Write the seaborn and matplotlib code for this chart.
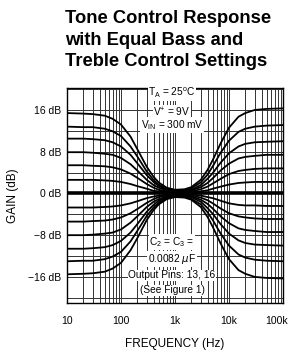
import numpy as np
import pandas as pd
import matplotlib
matplotlib.use("Agg")
import matplotlib.pyplot as plt
import matplotlib.ticker as mticker
import matplotlib.transforms as mtransforms
import seaborn as sns

# frequency axis (Hz) and gain of each control setting (dB)
freq_hz = [10, 20, 30, 50, 70, 100, 150, 200, 300, 400, 500, 700, 1000, 1500, 2000,
           3000, 4000, 5000, 7000, 10000, 15000, 20000, 30000, 50000, 100000]

boost_6 = [15.4, 15.3, 15.2, 14.9, 14.3, 13.2, 10.9, 8.5, 5.1, 3.2, 2.1, 1.1, 0.7, 0.8, 1.2,
           2.6, 4.5, 6.4, 9.6, 12.6, 14.7, 15.4, 16.0, 16.2, 16.3]
boost_5 = [12.8, 12.7, 12.7, 12.4, 11.9, 11.0, 9.0, 7.1, 4.2, 2.6, 1.7, 0.9, 0.6, 0.6, 1.0,
           2.1, 3.6, 5.2, 7.8, 10.1, 11.8, 12.4, 12.8, 13.0, 13.1]
boost_4 = [10.5, 10.5, 10.4, 10.2, 9.8, 9.0, 7.4, 5.8, 3.5, 2.2, 1.4, 0.8, 0.5, 0.5, 0.7,
           1.6, 2.8, 3.9, 5.9, 7.7, 9.0, 9.5, 9.8, 9.9, 10.0]
boost_3 = [7.9, 7.9, 7.8, 7.6, 7.4, 6.8, 5.6, 4.4, 2.6, 1.6, 1.1, 0.6, 0.3, 0.4, 0.6,
           1.2, 2.0, 2.9, 4.4, 5.7, 6.7, 7.0, 7.2, 7.4, 7.4]
boost_2 = [5.4, 5.4, 5.3, 5.2, 5.0, 4.6, 3.8, 3.0, 1.8, 1.1, 0.7, 0.4, 0.2, 0.2, 0.4,
           0.8, 1.3, 1.9, 2.8, 3.7, 4.3, 4.5, 4.7, 4.8, 4.8]
boost_1 = [2.6, 2.6, 2.6, 2.5, 2.4, 2.2, 1.8, 1.4, 0.9, 0.5, 0.4, 0.2, 0.1, 0.1, 0.2,
           0.4, 0.6, 0.9, 1.3, 1.7, 2.0, 2.1, 2.2, 2.2, 2.2]
flat = [0.0] * len(freq_hz)
cut_1 = [-2.7, -2.7, -2.7, -2.6, -2.5, -2.3, -1.9, -1.5, -0.9, -0.6, -0.4, -0.2, -0.1, -0.1, -0.2,
         -0.4, -0.7, -0.9, -1.4, -1.9, -2.2, -2.3, -2.3, -2.4, -2.4]
cut_2 = [-5.4, -5.4, -5.3, -5.2, -5.0, -4.6, -3.8, -3.0, -1.8, -1.1, -0.7, -0.4, -0.2, -0.2, -0.4,
         -0.8, -1.3, -1.9, -2.9, -3.8, -4.4, -4.6, -4.8, -4.9, -4.9]
cut_3 = [-8.0, -8.0, -7.9, -7.7, -7.5, -6.9, -5.6, -4.4, -2.6, -1.6, -1.1, -0.6, -0.3, -0.4, -0.6,
         -1.2, -2.0, -2.9, -4.4, -5.7, -6.7, -7.0, -7.2, -7.4, -7.4]
cut_4 = [-10.6, -10.6, -10.5, -10.3, -9.9, -9.1, -7.5, -5.9, -3.5, -2.2, -1.4, -0.8, -0.5, -0.5, -0.7,
         -1.6, -2.8, -3.9, -5.9, -7.7, -9.0, -9.5, -9.8, -9.9, -10.0]
cut_5 = [-13.0, -12.9, -12.9, -12.6, -12.1, -11.2, -9.2, -7.2, -4.3, -2.7, -1.8, -0.9, -0.6, -0.6, -1.0,
         -2.1, -3.6, -5.1, -7.7, -10.0, -11.7, -12.3, -12.7, -12.9, -13.0]
cut_6 = [-15.5, -15.4, -15.3, -15.0, -14.4, -13.3, -10.9, -8.6, -5.1, -3.2, -2.1, -1.1, -0.7, -0.8, -1.2,
         -2.6, -4.5, -6.4, -9.6, -12.6, -14.7, -15.4, -16.0, -16.2, -16.3]

x_ticks = [10, 100, 1000, 10000, 100000]
x_labels = ["10", "100", "1k", "10k", "100k"]
y_ticks = [-16, -8, 0, 8, 16]
y_labels = ["\u221216 dB", "\u22128 dB", "0 dB", "8 dB", "16 dB"]

curves = {
    "boost_6": boost_6, "boost_5": boost_5, "boost_4": boost_4,
    "boost_3": boost_3, "boost_2": boost_2, "boost_1": boost_1,
    "cut_1": cut_1, "cut_2": cut_2, "cut_3": cut_3,
    "cut_4": cut_4, "cut_5": cut_5, "cut_6": cut_6,
}
df = pd.concat(
    [pd.DataFrame({"freq": freq_hz, "gain": g, "setting": k}) for k, g in curves.items()],
    ignore_index=True,
)
df_flat = pd.DataFrame({"freq": freq_hz, "gain": flat})

sns.set_style("white")
plt.rcParams["font.family"] = ["Liberation Sans", "DejaVu Sans"]
plt.rcParams["text.color"] = "black"
plt.rcParams["axes.labelcolor"] = "black"
plt.rcParams["xtick.color"] = "black"
plt.rcParams["ytick.color"] = "black"

fig = plt.figure(figsize=(2.88, 3.54), dpi=100)
ax = fig.add_axes([67 / 288, 1 - 303 / 354, 216 / 288, 215.5 / 354])

sns.lineplot(data=df, x="freq", y="gain", hue="setting", units="setting",
             estimator=None, palette=["black"] * len(curves), legend=False,
             linewidth=1.3, ax=ax, zorder=3)
sns.lineplot(data=df_flat, x="freq", y="gain", color="black", linewidth=2.6,
             ax=ax, zorder=3)

ax.set_xscale("log")
ax.set_xlim(10, 100000)
ax.set_ylim(-21, 20.3)

ax.xaxis.set_major_locator(mticker.FixedLocator(x_ticks))
ax.xaxis.set_major_formatter(mticker.FixedFormatter(x_labels))
ax.xaxis.set_minor_locator(mticker.LogLocator(base=10, subs=np.arange(2, 10)))
ax.xaxis.set_minor_formatter(mticker.NullFormatter())
ax.yaxis.set_major_locator(mticker.FixedLocator(y_ticks))
ax.yaxis.set_major_formatter(mticker.FixedFormatter(y_labels))
ax.yaxis.set_minor_locator(mticker.FixedLocator([-20, -12, -4, 4, 12, 20]))

ax.grid(which="both", color="0.2", linewidth=0.7, zorder=1)
ax.tick_params(which="both", length=0)
ax.tick_params(axis="x", labelsize=7.5, pad=9)
ax.tick_params(axis="y", labelsize=7.5, pad=4)
for s in ax.spines.values():
    s.set_color("black")
    s.set_linewidth(1.0)

# keep the last frequency label inside the figure edge
fig.canvas.draw()
last = ax.get_xticklabels()[-1]
last.set_transform(last.get_transform() + mtransforms.ScaledTranslation(-6 / 100, 0, fig.dpi_scale_trans))

ax.set_xlabel("FREQUENCY (Hz)", fontsize=8.5, labelpad=9)
ax.set_ylabel("GAIN (dB)", fontsize=8.5, labelpad=7)

# condition notes
box = dict(facecolor="white", edgecolor="none", pad=0.6)
notes_top = [(19.2, r"T$_\mathregular{A}$ = 25$^\mathregular{o}$C"),
             (15.6, r"V$^\mathregular{+}$ = 9V"),
             (13.1, r"V$_\mathregular{IN}$ = 300 mV")]
notes_bot = [(-9.3, r"C$_\mathregular{2}$ = C$_\mathregular{3}$ ="),
             (-12.6, r"0.0082 $\mu$F"),
             (-15.7, "Output Pins: 13, 16"),
             (-18.6, "(See Figure 1)")]
for yv, txt in notes_top + notes_bot:
    ax.text(880, yv, txt, ha="center", va="center", fontsize=7.3, bbox=box, zorder=5)

title_lines = ["Tone Control Response", "with Equal Bass and", "Treble Control Settings"]
for i, line in enumerate(title_lines):
    fig.text(65 / 288, 1 - (23.3 + 21.4 * i) / 354, line, fontsize=13.2,
             fontweight="bold", ha="left", va="baseline")

fig.savefig("out.png", dpi=100)
